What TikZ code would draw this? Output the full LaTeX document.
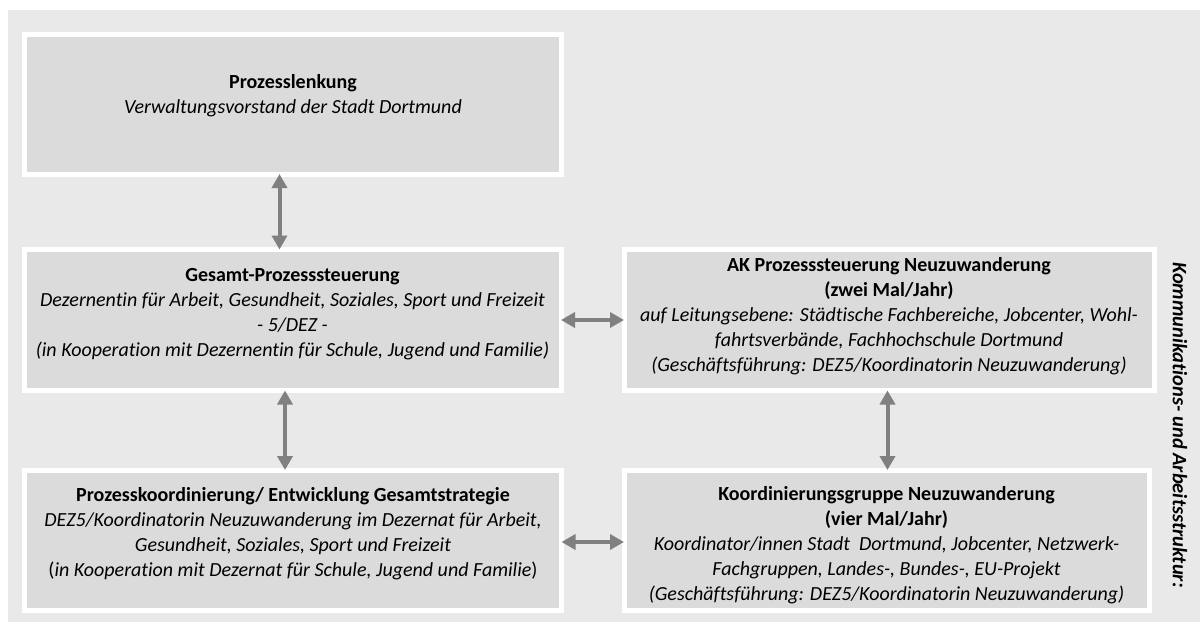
\documentclass[tikz,border=0pt]{standalone}
\usepackage{fontspec}
\setmainfont{Carlito}[Ligatures={NoCommon}]
\usetikzlibrary{arrows.meta,calc}
\definecolor{hintergrund}{HTML}{E9E9E9}
\definecolor{kasten}{HTML}{DBDBDB}
\definecolor{pfeilgrau}{HTML}{808080}
\begin{document}
\begin{tikzpicture} [x=1pt, y=-1pt,
				ebene/.style={
				% The shape:
				rectangle,
				% The size:
				minimum width=537pt, minimum height=140pt,
				% The border:
				draw=white, line width=5pt, outer sep=0pt,
				% The filling:
				fill=kasten
				},
				beschriftung/.style={
				% The font:
				font=\fontsize{20}{25}\selectfont,
				text=black,
				inner sep=0pt
				},
				pfeil/.style={
				% The line:
				draw=pfeilgrau, line width=4pt,
				% The tips:
				{Triangle[width=15pt,length=14pt]}-{Triangle[width=15pt,length=14pt]}
				},
				]
    \tikzstyle{every node} = [align=center]
    % page and grey background
    \fill[white] (0,0) rectangle (1200,622);
    \fill[hintergrund] (8,10) rectangle (1200,622);
    \useasboundingbox (0,0) rectangle (1200,622);
    % boxes
    \node [ebene] (lenkung) at (293,104) {};
    \node [ebene, minimum height=141pt] (gesamt) at (292.5,320) {};
    \node [ebene, minimum width=530pt, minimum height=141pt] (ak) at (889,320) {};
    \node [ebene] (koordinierung) at (293,540) {};
    \node [ebene, minimum width=525pt] (gruppe) at (886.5,540) {};
    % texts
    \node [beschriftung] (lenkung-text) at ($(lenkung.center)+(0,-8)$)
        {\textbf{Prozesslenkung}\\
         \textit{Verwaltungsvorstand der Stadt Dortmund}};
    \node [beschriftung] (gesamt-text) at ($(gesamt.center)+(0,-6)$)
        {\textbf{Gesamt-Prozesssteuerung}\\
         \textit{Dezernentin für Arbeit, Gesundheit, Soziales, Sport und Freizeit}\\
         \textit{- 5/DEZ -}\\
         \textit{(in Kooperation mit Dezernentin für Schule, Jugend und Familie)}};
    \node [beschriftung] (ak-text) at ($(ak.center)+(0,-4)$)
        {\textbf{AK Prozesssteuerung Neuzuwanderung}\\
         \textbf{(zwei Mal/Jahr)}\\
         \textit{auf Leitungsebene: Städtische Fachbereiche, Jobcenter, Wohl-}\\
         \textit{fahrtsverbände, Fachhochschule Dortmund}\\
         \textit{(Geschäftsführung: DEZ5/Koordinatorin Neuzuwanderung)}};
    \node [beschriftung] (koordinierung-text) at ($(koordinierung.center)+(0,-6.5)$)
        {\textbf{Prozesskoordinierung/ Entwicklung Gesamtstrategie}\\
         \textit{DEZ5/Koordinatorin Neuzuwanderung im Dezernat für Arbeit,}\\
         \textit{Gesundheit, Soziales, Sport und Freizeit}\\
         (\textit{in Kooperation mit Dezernat für Schule, Jugend und Familie})};
    \node [beschriftung] (gruppe-text) at ($(gruppe.center)+(0,5)$)
        {\textbf{Koordinierungsgruppe Neuzuwanderung}\\
         \textbf{(vier Mal/Jahr)}\\
         \textit{Koordinator/innen Stadt\ \ Dortmund, Jobcenter, Netzwerk-}\\
         \textit{Fachgruppen, Landes-, Bundes-, EU-Projekt}\\
         \textit{(Geschäftsführung: DEZ5/Koordinatorin Neuzuwanderung)}};
    \node [beschriftung, rotate=-90, font=\fontsize{20.5}{25}\selectfont\bfseries\itshape] (struktur)
        at (1180,425) {Kommunikations- und Arbeitsstruktur:};
    % connectors
    \draw [pfeil] ([xshift=-13.5pt]lenkung.south) -- ([xshift=-13.5pt]lenkung.south |- gesamt.north);
    \draw [pfeil] (gesamt.east) -- (ak.west);
    \draw [pfeil] ([xshift=-7.5pt]gesamt.south) -- ([xshift=-7.5pt]gesamt.south |- koordinierung.north);
    \draw [pfeil] ([xshift=-1.5pt]ak.south) -- ([xshift=-1.5pt]ak.south |- gruppe.north);
    \draw [pfeil] ([yshift=-2pt]koordinierung.east) -- ([yshift=-2pt]koordinierung.east -| gruppe.west);
\end{tikzpicture}
\end{document}
